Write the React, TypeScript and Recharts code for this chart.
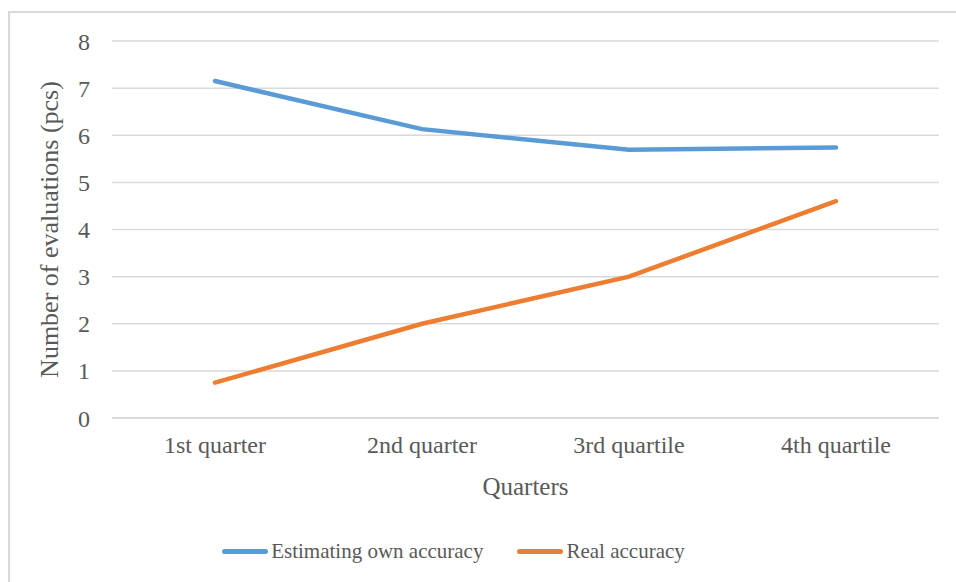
import { CartesianGrid, Legend, Line, LineChart, XAxis, YAxis } from "recharts"

const quarters = ["1st quarter", "2nd quarter", "3rd quartile", "4th quartile"]
const estimatingOwn = [7.15, 6.13, 5.69, 5.74]
const realAccuracy = [0.75, 2.0, 3.0, 4.6]
const yTicks = [0, 1, 2, 3, 4, 5, 6, 7, 8]

const data = quarters.map((q, i) => ({
  name: q,
  est: estimatingOwn[i],
  real: realAccuracy[i],
}))

const font = "'Liberation Serif', 'Times New Roman', serif"
const gray = "#595959"

const legendItems = [
  { label: "Estimating own accuracy", color: "#5b9bd5" },
  { label: "Real accuracy", color: "#ed7d31" },
]

function LegendBox() {
  return (
    <div style={{ display: "flex", justifyContent: "center", gap: 34, fontFamily: font, fontSize: 21, color: gray, height: 30, alignItems: "center", paddingRight: 32 }}>
      {legendItems.map((it) => (
        <div key={it.label} style={{ display: "flex", alignItems: "center" }}>
          <span style={{ display: "inline-block", width: 46, height: 5, borderRadius: 3, background: it.color, marginRight: 3 }} />
          {it.label}
        </div>
      ))}
    </div>
  )
}

export default function App() {
  return (
    <div style={{ position: "absolute", left: 0, top: 0, width: 956, height: 582, overflow: "hidden", background: "#fff" }}>
      <div style={{ position: "absolute", left: 8, top: 11, width: 980, height: 600, border: "2px solid #d9d9d9" }} />
      <LineChart width={956} height={582} data={data} margin={{ top: 41, right: 17, left: 0, bottom: 16 }} style={{ position: "absolute", left: 0, top: 0, fontFamily: font }}>
        <CartesianGrid vertical={false} stroke="#d9d9d9" strokeWidth={1.5} />
        <XAxis
          dataKey="name"
          padding={{ left: 103, right: 103 }}
          axisLine={{ stroke: "#d9d9d9", strokeWidth: 1.5 }}
          tickLine={false}
          tick={{ fill: gray, fontSize: 24, fontFamily: font }}
          tickMargin={12}
          height={118}
          label={{ value: "Quarters", position: "insideTop", dy: 54, fill: gray, fontSize: 25, fontFamily: font }}
        />
        <YAxis
          domain={[0, 8]}
          ticks={yTicks}
          width={112}
          axisLine={false}
          tickLine={false}
          tickMargin={16}
          tick={{ fill: gray, fontSize: 24, fontFamily: font }}
          label={{ value: "Number of evaluations (pcs)", angle: -90, position: "insideLeft", dx: 44, dy: 0, fill: gray, fontSize: 26, fontFamily: font, style: { textAnchor: "middle" } }}
        />
        <Line dataKey="est" name="Estimating own accuracy" stroke="#5b9bd5" strokeWidth={4.5} strokeLinecap="round" dot={false} isAnimationActive={false} />
        <Line dataKey="real" name="Real accuracy" stroke="#ed7d31" strokeWidth={4.5} strokeLinecap="round" dot={false} isAnimationActive={false} />
        <Legend verticalAlign="bottom" content={() => <LegendBox />} />
      </LineChart>
    </div>
  )
}
